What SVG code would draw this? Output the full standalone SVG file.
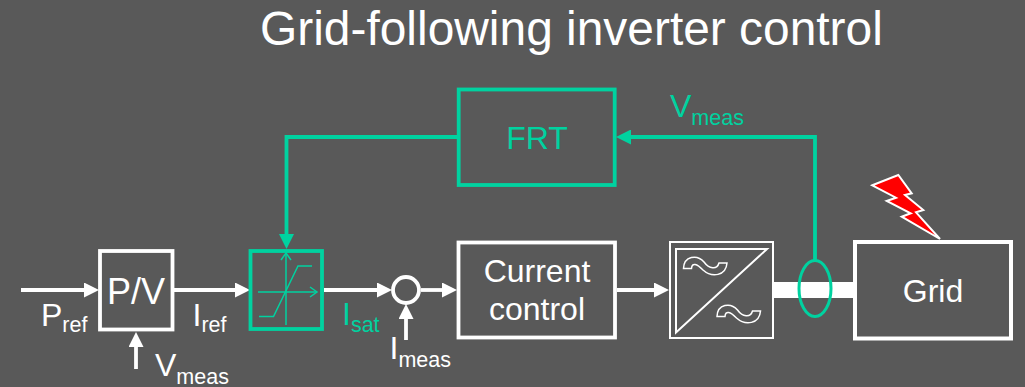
<svg xmlns="http://www.w3.org/2000/svg" width="1025" height="387" viewBox="0 0 1025 387">
<style>
text{font-family:"Liberation Sans",Arial,sans-serif;fill:#fff;font-size:32px}
.g{fill:#00d2a0}
.c{text-anchor:middle}
.s{font-size:21.500px}
.box{fill:none;stroke:#fff;stroke-width:3.8}
.gbox{fill:none;stroke:#00d2a0;stroke-width:3.8}
.w{fill:none;stroke:#fff;stroke-width:3.8;marker-end:url(#aw)}
.gl{fill:none;stroke:#00d2a0;stroke-width:3.8}
.thin{fill:none;stroke:#00d2a0;stroke-width:1.5}
</style>
<defs>
<marker id="aw" markerUnits="userSpaceOnUse" markerWidth="15" markerHeight="15" refX="1" refY="7.5" orient="auto"><path d="M0 0L15 7.5L0 15z" fill="#fff"/></marker>
<marker id="ag" markerUnits="userSpaceOnUse" markerWidth="15" markerHeight="15" refX="1" refY="7.5" orient="auto"><path d="M0 0L15 7.5L0 15z" fill="#00d2a0"/></marker>
<marker id="ao" markerUnits="userSpaceOnUse" markerWidth="10" markerHeight="12" refX="8" refY="6" orient="auto"><path d="M1 1L8 6L1 11" fill="none" stroke="#00d2a0" stroke-width="1.5"/></marker>
<path id="wave" d="M683.500 268.500C684 256 697 254 704 262C709 269 717 270 719 263L727 263C726 276 712 278 703 270C697 264 692 262 691.500 268.500Z" fill="none" stroke="#fff" stroke-width="1.500"/>
</defs>
<rect width="1025" height="387" fill="#595959"/>
<text id="title" x="260" y="45" style="font-size:47.900px">Grid-following inverter control</text>

<g id="connectors">
<path class="w" d="M21 290H85"/>
<path class="w" d="M174 290H236"/>
<path class="w" d="M324 290H378"/>
<path class="w" d="M421 290H443"/>
<path class="w" d="M617 290H655"/>
<path class="w" d="M136 369V346"/>
<path class="w" d="M406 340V318"/>
<path d="M774 290H854" fill="none" stroke="#fff" stroke-width="16"/>
<path class="gl" d="M815 261V137H630" marker-end="url(#ag)"/>
<path class="gl" d="M457 137H286.500V235" marker-end="url(#ag)"/>
</g>

<g id="pv"><rect class="box" x="100" y="251" width="72.500" height="78.500"/><text class="c" x="136" y="304" style="font-size:36px">P/V</text></g>
<g id="saturation"><rect class="gbox" x="250.500" y="251" width="71.500" height="78"/>
<path class="thin" d="M286 325V253" marker-end="url(#ao)"/><path class="thin" d="M258 292H317" marker-end="url(#ao)"/>
<path class="thin" d="M259 316.500H273.500L298 266H312"/></g>
<g id="sum"><circle cx="406" cy="290" r="13" fill="#595959" stroke="#fff" stroke-width="3.800"/></g>
<g id="current-control"><rect class="box" x="458.500" y="242.500" width="156.500" height="95"/><text class="c" x="537" y="282">Current</text><text class="c" x="537" y="320">control</text></g>
<g id="converter"><rect x="670" y="242" width="103" height="96" fill="none" stroke="#fff" stroke-width="2"/>
<path d="M676 249H767L676 332.500Z" fill="none" stroke="#fff" stroke-width="2"/>
<use href="#wave"/><use href="#wave" transform="translate(33.500 48)"/></g>
<g id="sensor"><ellipse cx="815" cy="288.500" rx="16" ry="28" fill="none" stroke="#00d2a0" stroke-width="3"/></g>
<g id="grid"><rect x="855" y="242" width="156" height="96.500" fill="none" stroke="#fff" stroke-width="4"/><text class="c" x="933" y="302">Grid</text></g>
<g id="fault"><path d="M872.300 185.300L898.300 175L911.700 193.300L905 195L923.300 210L916 212.300L940 239L901.700 216.700L910.700 213.300L886.700 201L896 197.700Z" fill="#f00" stroke="#fff" stroke-width="2"/></g>
<g id="frt"><rect class="gbox" x="458.700" y="89.500" width="156" height="95.500"/><text class="c g" x="537" y="149">FRT</text></g>

<g id="labels">
<text x="41" y="326">P<tspan class="s" dy="6">ref</tspan></text>
<text x="192.500" y="326">I<tspan class="s" dy="6">ref</tspan></text>
<text x="155" y="376">V<tspan class="s" dy="8">meas</tspan></text>
<text class="g" x="342" y="325">I<tspan class="s g" dy="7">sat</tspan></text>
<text x="389.500" y="359">I<tspan class="s" dy="8">meas</tspan></text>
<text class="g" x="670" y="117">V<tspan class="s g" dy="8">meas</tspan></text>
</g>
</svg>
